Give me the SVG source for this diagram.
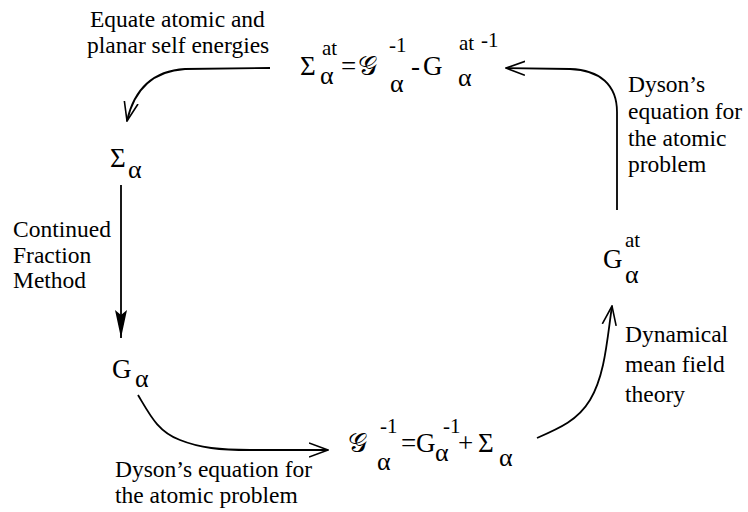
<svg xmlns="http://www.w3.org/2000/svg" width="748" height="512" viewBox="0 0 748 512">
<style>
  text { font-family: "Liberation Serif", "Times New Roman", Times, "DejaVu Serif", serif; fill: #000; }
  .lbl { font-size: 23.5px; }
  .big { font-size: 27px; }
  .sup { font-size: 21px; }
  .gr { font-size: 26px; }
  .scr { font-size: 27px; }
  .conn { fill: none; stroke: #000; stroke-width: 1.8; }
</style>
<defs>
  <marker id="open" viewBox="0 0 20 16" refX="19" refY="8" markerWidth="20" markerHeight="16" markerUnits="userSpaceOnUse" orient="auto">
    <path d="M0,1 L19,8 L0,15" fill="none" stroke="#000" stroke-width="1.6"/>
  </marker>
  <marker id="filled" viewBox="0 0 28 12" refX="28" refY="6" markerWidth="28" markerHeight="12" markerUnits="userSpaceOnUse" orient="auto">
    <path d="M0,0 L28,6 L0,12 L5,6 z" fill="#000"/>
  </marker>
</defs>

<g id="connectors">
  <path class="conn" d="M270,68 L185,69 C152,71 134,90 127,121" marker-end="url(#open)"/>
  <path class="conn" d="M121,185 L121,338" marker-end="url(#filled)"/>
  <path class="conn" d="M138,395 C150,415 158,432 180,440 C200,448 220,450 250,450 L328,450" marker-end="url(#open)"/>
  <path class="conn" d="M537,438 C560,428 578,420 590,400 C605,375 607,340 612,306" marker-end="url(#open)"/>
  <path class="conn" d="M617,210 L617,112 C617,85 600,70 570,69 L506,68" marker-end="url(#open)"/>
</g>

<g id="label-equate">
  <text class="lbl" x="90" y="27">Equate atomic and</text>
  <text class="lbl" x="87" y="53">planar self energies</text>
</g>

<g id="label-continued">
  <text class="lbl" x="13" y="237">Continued</text>
  <text class="lbl" x="13" y="263">Fraction</text>
  <text class="lbl" x="13" y="288">Method</text>
</g>

<g id="label-dyson-bottom">
  <text class="lbl" x="115" y="477">Dyson’s equation for</text>
  <text class="lbl" x="115" y="503">the atomic problem</text>
</g>

<g id="label-dmft">
  <text class="lbl" x="625" y="342">Dynamical</text>
  <text class="lbl" x="625" y="372">mean field</text>
  <text class="lbl" x="625" y="402">theory</text>
</g>

<g id="label-dyson-top">
  <text class="lbl" x="628" y="92">Dyson’s</text>
  <text class="lbl" x="628" y="119">equation for</text>
  <text class="lbl" x="628" y="146">the atomic</text>
  <text class="lbl" x="628" y="172">problem</text>
</g>

<g id="node-sigma-at">
  <text class="big" x="300" y="75">Σ</text>
  <text class="sup" x="322" y="55">at</text>
  <text class="gr" x="320" y="84">α</text>
  <text class="big" x="341" y="75">=</text>
  <text class="scr" x="358" y="75">𝒢</text>
  <text class="sup" x="389" y="52">-1</text>
  <text class="gr" x="390" y="92">α</text>
  <text class="big" x="411" y="75">-</text>
  <text class="big" x="423" y="75">G</text>
  <text class="sup" x="459" y="50">at</text>
  <text class="sup" x="481" y="47">-1</text>
  <text class="gr" x="458" y="86">α</text>
</g>

<g id="node-sigma">
  <text class="big" x="110" y="167">Σ</text>
  <text class="gr" x="128" y="178">α</text>
</g>

<g id="node-g">
  <text class="big" x="112" y="378">G</text>
  <text class="gr" x="135" y="387">α</text>
</g>

<g id="node-g-inverse">
  <text class="scr" x="348" y="452">𝒢</text>
  <text class="sup" x="380" y="433">-1</text>
  <text class="gr" x="377" y="470">α</text>
  <text class="big" x="401" y="452">=</text>
  <text class="big" x="416" y="452">G</text>
  <text class="sup" x="443" y="433">-1</text>
  <text class="gr" x="435" y="461">α</text>
  <text class="big" x="458" y="452">+</text>
  <text class="big" x="478" y="452">Σ</text>
  <text class="gr" x="499" y="466">α</text>
</g>

<g id="node-g-at">
  <text class="big" x="603" y="268">G</text>
  <text class="sup" x="625" y="247">at</text>
  <text class="gr" x="625" y="283">α</text>
</g>
</svg>
